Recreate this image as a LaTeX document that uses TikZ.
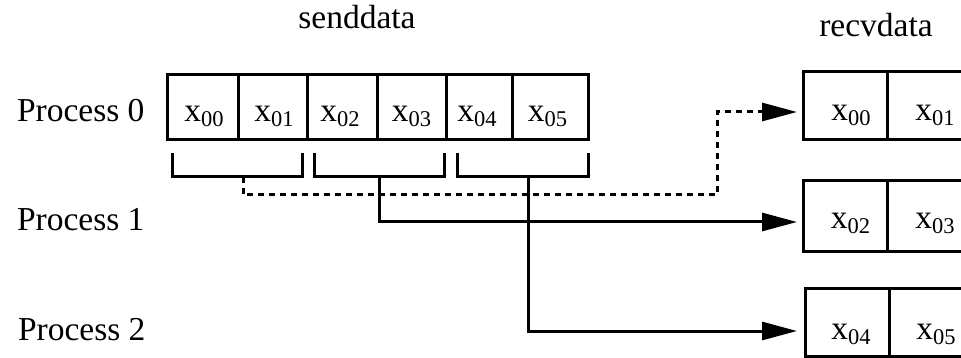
\documentclass[tikz,border=0pt]{standalone}
\usepackage{fontspec}
\setmainfont{Liberation Serif}
\usetikzlibrary{arrows.meta}
\newcommand{\xs}[1]{x{\fontsize{22.5}{22.5}\selectfont\raisebox{-5pt}{#1}}}
\begin{document}
\begin{tikzpicture}[x=1pt,y=-1pt,
  every node/.style={font=\fontsize{33.5}{36}\selectfont, inner sep=0pt, outer sep=0pt},
  cell/.style={draw, line width=3pt, minimum height=#1},
  cell/.default=65pt,
  bracket/.style={line width=3pt},
  conn/.style={line width=3pt, -{Triangle[length=35pt,width=18pt]}},
  dashconn/.style={conn, dash pattern=on 6pt off 5pt}
]
\useasboundingbox (0,0) rectangle (961,358);
\clip (0,0) rectangle (961,358);

% titles
\node[anchor=base] (send) at (357,29) {senddata};
\node[anchor=base] (recv) at (876,37) {recvdata};

% process labels
\node[anchor=base west] (p0) at (17,122) {Process 0};
\node[anchor=base west] (p1) at (17,230) {Process 1};
\node[anchor=base west] (p2) at (18,340) {Process 2};

% senddata cells
\node[cell, minimum width=71pt] (s0) at (202.5,107.5) {};
\node[cell, minimum width=69pt] (s1) at (272.5,107.5) {};
\node[cell, minimum width=70pt] (s2) at (342,107.5) {};
\node[cell, minimum width=69pt] (s3) at (411.5,107.5) {};
\node[cell, minimum width=66pt] (s4) at (479,107.5) {};
\node[cell, minimum width=76pt] (s5) at (550,107.5) {};
\node[anchor=base] (ts0) at (204,122) {\xs{00}};
\node[anchor=base] (ts1) at (274,122) {\xs{01}};
\node[anchor=base] (ts2) at (340,122) {\xs{02}};
\node[anchor=base] (ts3) at (411.5,122) {\xs{03}};
\node[anchor=base] (ts4) at (477,122) {\xs{04}};
\node[anchor=base] (ts5) at (547.5,122) {\xs{05}};

% brackets
\coordinate (b1m) at (243,177);
\coordinate (b2m) at (379,177);
\coordinate (b3m) at (528,177);
\draw[bracket] (172,153) -- (172,177) -- (302,177) -- (302,153);
\draw[bracket] (314,153) -- (314,177) -- (444,177) -- (444,153);
\draw[bracket] (457,153) -- (457,177) -- (588,177) -- (588,153);

% recvdata cells
\node[cell, minimum width=84pt, minimum height=68pt] (r00) at (845,106) {};
\node[cell, minimum width=84pt, minimum height=68pt] (r01) at (929,106) {};
\node[cell, minimum width=84pt, minimum height=70pt] (r10) at (845,216) {};
\node[cell, minimum width=84pt, minimum height=70pt] (r11) at (929,216) {};
\node[cell, minimum width=84pt, minimum height=68pt] (r20) at (847,322) {};
\node[cell, minimum width=84pt, minimum height=68pt] (r21) at (931,322) {};
\node[anchor=base] (tr00) at (851,121) {\xs{00}};
\node[anchor=base] (tr01) at (935,121) {\xs{01}};
\node[anchor=base] (tr10) at (850.5,229) {\xs{02}};
\node[anchor=base] (tr11) at (935,229) {\xs{03}};
\node[anchor=base] (tr20) at (851,339) {\xs{04}};
\node[anchor=base] (tr21) at (936,339) {\xs{05}};

% connectors
\coordinate (d1) at (243,195);
\coordinate (d2) at (717,195);
\coordinate (a0) at (797,112);
\coordinate (a1) at (797,222);
\coordinate (a2) at (797,331);
\draw[dashconn] (b1m) -- (d1) -- (d2) |- (a0);
\draw[conn] (b2m) |- (a1);
\draw[conn] (b3m) |- (a2);
\end{tikzpicture}
\end{document}
